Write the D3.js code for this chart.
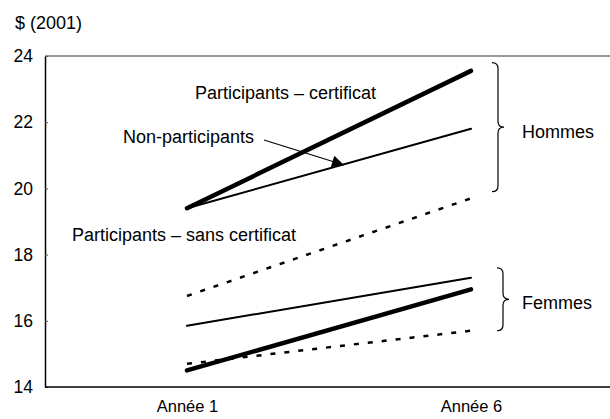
<!DOCTYPE html>
<html>
<head>
<meta charset="utf-8">
<script src="https://cdn.jsdelivr.net/npm/d3@7"></script>
<style>
  body { margin: 0; background: #fff; }
  text { font-family: "Liberation Sans", Arial, sans-serif; fill: #000; }
</style>
</head>
<body>
<div id="chart"></div>
<script>
var categories = ['Année 1', 'Année 6'];
var yTicks = [14, 16, 18, 20, 22, 24];

// salaire horaire moyen
var hommesCertificat = [19.4, 23.55];
var hommesNonPart = [19.4, 21.8];
var hommesSansCert = [16.75, 19.7];
var femmesCertificat = [14.5, 16.95];
var femmesNonPart = [15.85, 17.3];
var femmesSansCert = [14.7, 15.7];

var series = [
    { values: hommesCertificat, style: 'thick' },
    { values: hommesNonPart, style: 'thin' },
    { values: hommesSansCert, style: 'dash' },
    { values: femmesCertificat, style: 'thick' },
    { values: femmesNonPart, style: 'thin' },
    { values: femmesSansCert, style: 'dash' }
];

function drawChart() {
    var width = 610, height = 419
      , margin = { top: 56, left: 45, bottom: 32, right: 0 }
      , fontSize = '18px';

    var svg = d3.select('#chart')
        .append('svg')
        .attr('width', width)
        .attr('height', height);

    var x = d3.scalePoint()
        .domain(categories)
        .range([margin.left, width + 3])
        .padding(0.5);

    var y = d3.scaleLinear()
        .domain([14, 24])
        .range([height - margin.bottom, margin.top]);

    // ligne du haut (grise)
    svg.append('line')
        .attr('x1', margin.left).attr('x2', width)
        .attr('y1', y(24)).attr('y2', y(24))
        .style('stroke', '#777')
        .style('stroke-width', 1.5);

    var yAxis = svg.append('g')
        .attr('transform', 'translate(' + margin.left + ',0)')
        .call(d3.axisLeft(y).tickValues(yTicks).tickSizeInner(-3).tickSizeOuter(0).tickPadding(12));
    yAxis.select('.domain').style('stroke', '#000').style('stroke-width', 1.5);
    yAxis.selectAll('.tick line').style('stroke', '#555');
    yAxis.selectAll('text').style('font-size', '17.5px').attr('font-family', null);

    var xAxis = svg.append('g')
        .attr('transform', 'translate(0,' + y(14) + ')')
        .call(d3.axisBottom(x).tickSize(0).tickPadding(13));
    xAxis.select('.domain').remove();
    xAxis.selectAll('text').style('font-size', '16.5px').attr('font-family', null);
    svg.append('line')
        .attr('x1', margin.left).attr('x2', width)
        .attr('y1', y(14)).attr('y2', y(14))
        .style('stroke', '#000')
        .style('stroke-width', 1.5);

    svg.append('text')
        .attr('x', 15).attr('y', 29)
        .style('font-size', fontSize)
        .text('$ (2001)');

    var line = d3.line()
        .x(function (d, i) { return x(categories[i]); })
        .y(function (d) { return y(d); });

    svg.selectAll('.serie')
        .data(series)
        .enter()
        .append('path')
        .attr('class', 'serie')
        .attr('d', function (d) { return line(d.values); })
        .style('fill', 'none')
        .style('stroke', '#000')
        .style('stroke-linecap', function (d) { return d.style == 'dash' ? 'butt' : 'round'; })
        .style('stroke-width', function (d) {
            return d.style == 'thick' ? 4.5 : (d.style == 'thin' ? 2 : 2.5);
        })
        .style('stroke-dasharray', function (d) { return d.style == 'dash' ? '5,9' : null; });

    // flèche Non-participants
    svg.append('defs').append('marker')
        .attr('id', 'fleche')
        .attr('viewBox', '0 0 10 10')
        .attr('refX', 10).attr('refY', 5)
        .attr('markerWidth', 16).attr('markerHeight', 12)
        .attr('markerUnits', 'userSpaceOnUse')
        .attr('orient', 'auto')
        .append('path')
        .attr('d', 'M0,0L10,5L0,10Z')
        .style('fill', '#000');

    svg.append('line')
        .attr('x1', 264).attr('y1', 140)
        .attr('x2', 344).attr('y2', 165)
        .style('stroke', '#000')
        .style('stroke-width', 1.2)
        .attr('marker-end', 'url(#fleche)');

    var labels = [
        { t: 'Participants – certificat', x: 195, y: 99 },
        { t: 'Non-participants', x: 123, y: 143 },
        { t: 'Participants – sans certificat', x: 72, y: 241 },
        { t: 'Hommes', x: 522, y: 138 },
        { t: 'Femmes', x: 522, y: 309 }
    ];
    svg.selectAll('.lbl')
        .data(labels)
        .enter()
        .append('text')
        .attr('class', 'lbl')
        .attr('x', function (d) { return d.x; })
        .attr('y', function (d) { return d.y; })
        .style('font-size', fontSize)
        .text(function (d) { return d.t; });

    // accolades
    function brace(x0, top, bottom) {
        var mid = (top + bottom) / 2, c = 6;
        return 'M' + x0 + ',' + top +
            'Q' + (x0 + c) + ',' + top + ' ' + (x0 + c) + ',' + (top + c) +
            'L' + (x0 + c) + ',' + (mid - c) +
            'Q' + (x0 + c) + ',' + mid + ' ' + (x0 + 2 * c) + ',' + mid +
            'Q' + (x0 + c) + ',' + mid + ' ' + (x0 + c) + ',' + (mid + c) +
            'L' + (x0 + c) + ',' + (bottom - c) +
            'Q' + (x0 + c) + ',' + bottom + ' ' + x0 + ',' + bottom;
    }
    svg.append('path')
        .attr('d', brace(492, y(23.8), y(19.9)))
        .style('fill', 'none').style('stroke', '#000').style('stroke-width', 1.2);
    svg.append('path')
        .attr('d', brace(497, y(17.6), y(15.7)))
        .style('fill', 'none').style('stroke', '#000').style('stroke-width', 1.2);
}
drawChart();
</script>
</body>
</html>
